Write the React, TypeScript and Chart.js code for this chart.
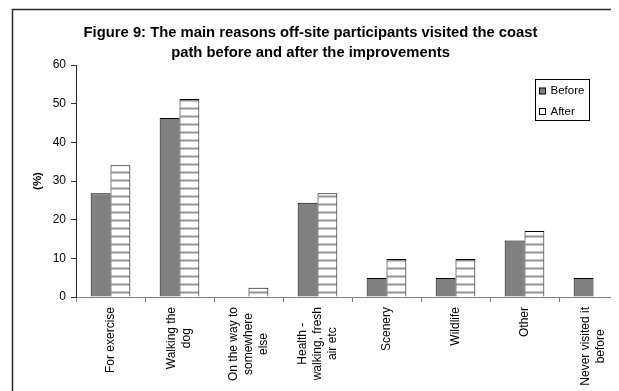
import React, { useEffect, useRef } from "react";
import { Chart, registerables } from "chart.js";

Chart.register(...registerables);

const titleLines = [
  "Figure 9: The main reasons off-site participants visited the coast",
  "path before and after the improvements",
];
const categories: string[][] = [
  ["For exercise"],
  ["Walking the", "dog"],
  ["On the way to", "somewhere", "else"],
  ["Health -", "walking, fresh", "air etc"],
  ["Scenery"],
  ["Wildlife"],
  ["Other"],
  ["Never visited it", "before"],
];
const beforeValues = [26.8, 46.3, 0, 24.4, 4.9, 4.9, 14.6, 4.9];
const afterValues = [34.1, 51.2, 2.4, 26.8, 9.8, 9.8, 17.1, 0];
const seriesNames = ["Before", "After"];
const yTitle = "(%)";
const yMin = 0;
const yMax = 60;
const yStep = 10;

const FONT = "'Liberation Sans', Arial, sans-serif";

function makeStripePattern(): CanvasPattern | string {
  const c = document.createElement("canvas");
  c.width = 8;
  c.height = 8;
  const g = c.getContext("2d");
  if (!g) return "#fff";
  g.fillStyle = "#ffffff";
  g.fillRect(0, 0, 8, 8);
  g.fillStyle = "#c8c8c8";
  g.fillRect(0, 3, 8, 1);
  g.fillStyle = "#969696";
  g.fillRect(0, 4, 8, 1);
  g.fillStyle = "#c8c8c8";
  g.fillRect(0, 5, 8, 1);
  const p = g.createPattern(c, "repeat");
  return p || "#fff";
}

const framePlugin = {
  id: "frame",
  beforeDraw(chart: any) {
    const ctx = chart.ctx;
    ctx.save();
    ctx.strokeStyle = "#2a2a2a";
    ctx.lineWidth = 1.5;
    ctx.beginPath();
    ctx.moveTo(4.5, chart.height + 5);
    ctx.lineTo(4.5, 1.5);
    ctx.lineTo(chart.width + 5, 1.5);
    ctx.stroke();
    ctx.restore();
  },
};

const titlePlugin = {
  id: "customTitle",
  afterDraw(chart: any) {
    const ctx = chart.ctx;
    ctx.save();
    ctx.fillStyle = "#000";
    ctx.font = `bold 14.8px ${FONT}`;
    ctx.textAlign = "center";
    ctx.textBaseline = "middle";
    titleLines.forEach((t, i) => {
      ctx.fillText(t, 302.5, 24.5 + i * 20);
    });
    ctx.restore();
  },
};

const xLabelPlugin = {
  id: "xLabels",
  afterDraw(chart: any) {
    const ctx = chart.ctx;
    const xs = chart.scales.x;
    const top = chart.chartArea.bottom + 10;
    ctx.save();
    ctx.fillStyle = "#000";
    ctx.font = `12px ${FONT}`;
    ctx.textAlign = "center";
    ctx.textBaseline = "middle";
    const lh = 14.7;
    categories.forEach((lines, i) => {
      const x = xs.getPixelForTick(i);
      const maxW = Math.max(...lines.map((l) => ctx.measureText(l).width));
      ctx.save();
      ctx.translate(x, top);
      ctx.rotate(-Math.PI / 2);
      lines.forEach((l, j) => {
        const off = (j - (lines.length - 1) / 2) * lh;
        ctx.fillText(l, -maxW / 2, off);
      });
      ctx.restore();
    });
    ctx.restore();
  },
};

const legendPlugin = {
  id: "boxLegend",
  afterDraw(chart: any) {
    const ctx = chart.ctx;
    const bx = 527.5, by = 71.5, bw = 54, bh = 41;
    ctx.save();
    ctx.fillStyle = "#fff";
    ctx.fillRect(bx, by, bw, bh);
    ctx.strokeStyle = "#000";
    ctx.lineWidth = 1;
    ctx.strokeRect(bx, by, bw, bh);
    ctx.font = `11.5px ${FONT}`;
    ctx.textBaseline = "middle";
    ctx.textAlign = "left";
    chart.data.datasets.forEach((ds: any, i: number) => {
      const cy = 83 + i * 20.5;
      ctx.fillStyle = i === 0 ? "#808080" : "#ffffff";
      ctx.fillRect(531.5, cy - 3, 6, 6);
      ctx.strokeStyle = "#000";
      ctx.strokeRect(531.5, cy - 3, 6, 6);
      ctx.fillStyle = "#000";
      ctx.fillText(ds.label, 542.5, cy);
    });
    ctx.restore();
  },
};

export default function App() {
  const ref = useRef<HTMLCanvasElement | null>(null);
  useEffect(() => {
    if (!ref.current) return;
    const stripe = makeStripePattern();
    const chart = new Chart(ref.current, {
      type: "bar",
      data: {
        labels: categories.map((c) => c.join(" ")),
        datasets: [
          {
            label: seriesNames[0],
            data: beforeValues,
            backgroundColor: "#808080",
            borderColor: "#000",
            borderWidth: 1,
            categoryPercentage: 0.575,
            barPercentage: 1,
          },
          {
            label: seriesNames[1],
            data: afterValues,
            backgroundColor: stripe as any,
            borderColor: "#000",
            borderWidth: 1,
            categoryPercentage: 0.575,
            barPercentage: 1,
          },
        ],
      },
      options: {
        animation: false,
        responsive: false,
        maintainAspectRatio: false,
        layout: { padding: { top: 57, left: 0, right: 0, bottom: 0 } },
        plugins: {
          legend: { display: false },
          title: { display: false },
          tooltip: { enabled: false },
        },
        scales: {
          x: {
            grid: {
              display: true,
              drawOnChartArea: false,
              drawTicks: true,
              tickLength: 5,
              color: "#808080",
              offset: true,
            },
            border: { display: true, color: "#808080", width: 1 },
            ticks: { display: false },
            afterFit(scale: any) {
              scale.height = 383 - 289;
            },
          },
          y: {
            min: yMin,
            max: yMax,
            grid: {
              drawOnChartArea: false,
              drawTicks: true,
              tickLength: 5,
              color: "#333",
            },
            border: { display: true, color: "#222", width: 1 },
            ticks: {
              stepSize: yStep,
              padding: 5,
              color: "#000",
              font: { family: FONT, size: 12 },
            },
            title: {
              display: true,
              text: yTitle,
              color: "#000",
              font: { family: FONT, size: 11.5, weight: "bold", lineHeight: 1.2 },
              padding: { top: 23, bottom: 0 },
            },
            afterFit(scale: any) {
              scale.width = 68;
            },
          },
        },
      },
      plugins: [framePlugin, titlePlugin, xLabelPlugin, legendPlugin],
    });
    return () => chart.destroy();
  }, []);
  return (
    <div style={{ width: 611, height: 383, overflow: "hidden", position: "relative" }}>
      <canvas ref={ref} width={620} height={383} style={{ display: "block" }} />
    </div>
  );
}
